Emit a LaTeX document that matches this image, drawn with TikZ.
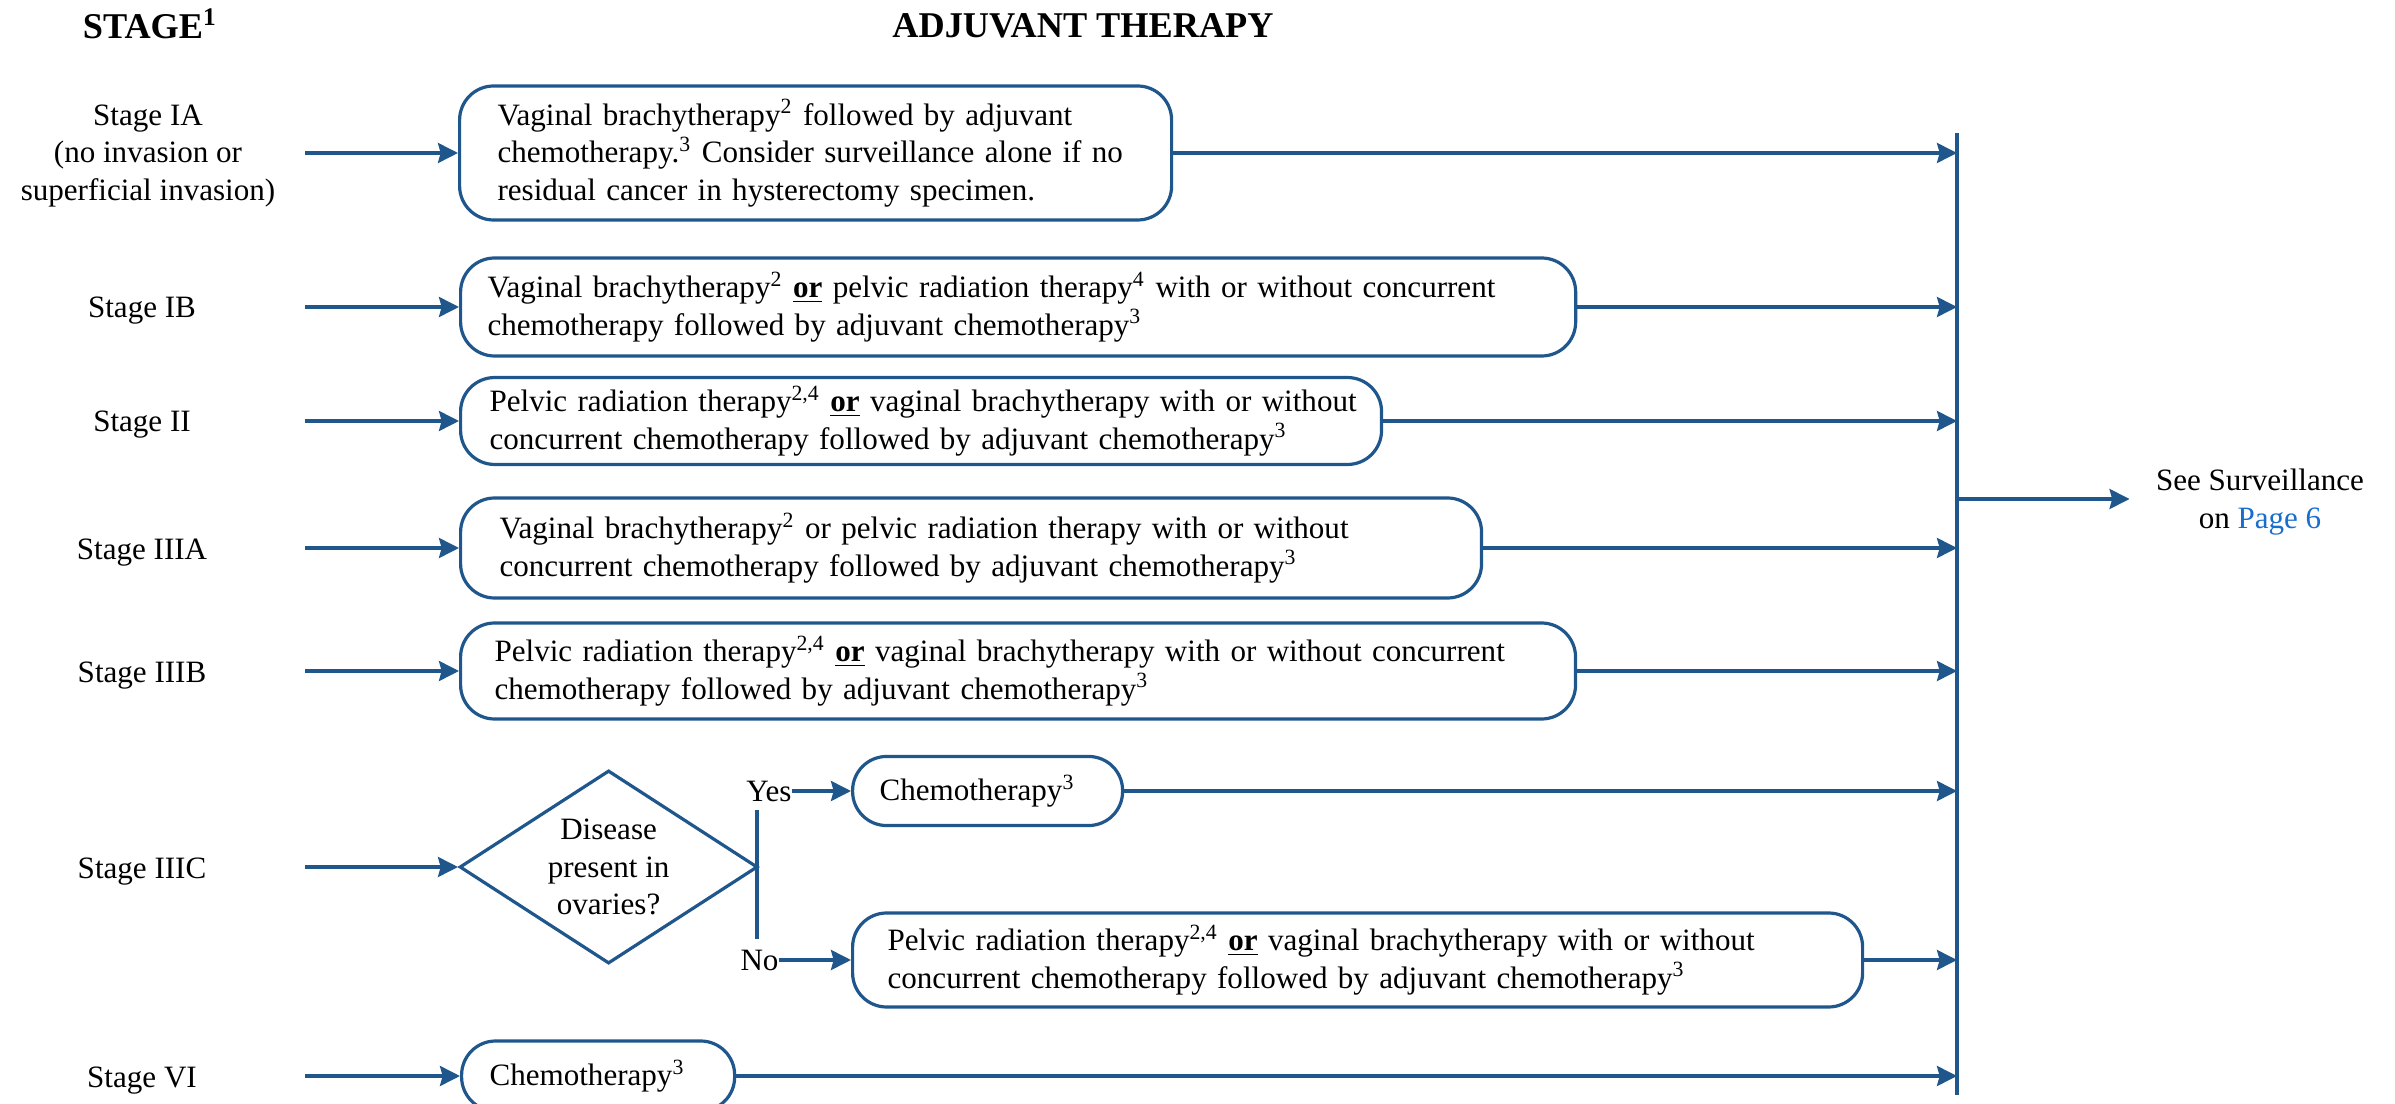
\documentclass[tikz,border=0pt]{standalone}
\usepackage{fontspec}
\setmainfont{Liberation Serif}
\usetikzlibrary{arrows.meta,shapes.geometric}
\definecolor{flow}{RGB}{31,86,140}
\definecolor{linkblue}{RGB}{25,110,205}
\newcommand{\orbold}{\underline{\textbf{or}}}
\begin{document}
\begin{tikzpicture}[x=0.375pt,y=-0.375pt,
  font=\fontsize{11.65pt}{14.1pt}\selectfont,
  line/.style={draw=flow, line width=1.2pt},
  arr/.style={line, -{Stealth[length=7.5pt,width=7.5pt,inset=1pt]}},
  tbox/.style={draw=flow, line width=1.2pt, rounded corners=12.75pt,
    align=left, anchor=west, inner ysep=2pt},
  stage/.style={align=center, inner sep=0pt},
  head/.style={font=\fontsize{13.6pt}{16pt}\selectfont\bfseries,
    inner sep=0pt, anchor=base},
  dia/.style={diamond, draw=flow, line width=1.2pt, inner sep=0pt,
    anchor=west}]

\useasboundingbox (0,0) rectangle (2395,1104);
\clip (0,0) rectangle (2395,1104);

% column headings
\node[head] (hstage) at (150,39) {STAGE\textsuperscript{1}};
\node[head] (hadj) at (1083,38) {ADJUVANT THERAPY};

% stage labels
\node[stage] (sIA) at (148,156) {Stage IA\\(no invasion or\\superficial invasion)};
\node[stage, anchor=base] (sIB) at (142,318) {Stage IB};
\node[stage, anchor=base] (sII) at (142,432) {Stage II};
\node[stage, anchor=base] (sIIIA) at (142,559) {Stage IIIA};
\node[stage, anchor=base] (sIIIB) at (142,682) {Stage IIIB};
\node[stage, anchor=base] (sIIIC) at (142,878) {Stage IIIC};
\node[stage, anchor=base] (sVI) at (142,1087) {Stage VI};

% start of the arrows leaving the stage column
\coordinate (lane) at (305,0);

% therapy boxes
\node[tbox, inner xsep=14.25pt, text width=238.5pt, minimum height=50.25pt] (bIA) at (458,153)
  {\mbox{Vaginal brachytherapy\textsuperscript{2} followed by adjuvant}\\
   \mbox{chemotherapy.\textsuperscript{3} Consider surveillance alone if no}\\
   \mbox{residual cancer in hysterectomy specimen.}};
\node[tbox, inner xsep=10.125pt, text width=397.9pt, minimum height=36.75pt] (bIB) at (459,307)
  {\mbox{Vaginal brachytherapy\textsuperscript{2} \orbold{} pelvic radiation therapy\textsuperscript{4} with or without concurrent}\\
   \mbox{chemotherapy followed by adjuvant chemotherapy\textsuperscript{3}}};
\node[tbox, inner xsep=10.875pt, text width=323.6pt, minimum height=32.6pt] (bII) at (459,421)
  {\mbox{Pelvic radiation therapy\textsuperscript{2,4} \orbold{} vaginal brachytherapy with or without}\\
   \mbox{concurrent chemotherapy followed by adjuvant chemotherapy\textsuperscript{3}}};
\node[tbox, inner xsep=14.625pt, text width=353.6pt, minimum height=37.5pt] (bIIIA) at (459,548)
  {\mbox{Vaginal brachytherapy\textsuperscript{2} or pelvic radiation therapy with or without}\\
   \mbox{concurrent chemotherapy followed by adjuvant chemotherapy\textsuperscript{3}}};
\node[tbox, inner xsep=12.75pt, text width=392.6pt, minimum height=36pt] (bIIIB) at (459,671)
  {\mbox{Pelvic radiation therapy\textsuperscript{2,4} \orbold{} vaginal brachytherapy with or without concurrent}\\
   \mbox{chemotherapy followed by adjuvant chemotherapy\textsuperscript{3}}};

% stage IIIC decision
\node[dia, minimum width=111.75pt, minimum height=72.4pt,
  label={[align=center, inner sep=0pt]center:Disease\\present in\\ovaries?}] (dia) at (458,867) {};
\coordinate (vtop) at (757,810);
\coordinate (vbot) at (757,939);
\draw[line] (vtop) -- (vbot);
\node[inner sep=0pt, anchor=east] (yes) at (792,791) {Yes};
\node[inner sep=0pt, anchor=east] (no) at (779,960) {No};
\node[tbox, inner xsep=10.125pt, text width=81pt, minimum height=25.9pt] (bYes) at (851,791)
  {\mbox{Chemotherapy\textsuperscript{3}}};
\node[tbox, inner xsep=13.125pt, text width=352.5pt, minimum height=35.25pt] (bNo) at (851,960)
  {\mbox{Pelvic radiation therapy\textsuperscript{2,4} \orbold{} vaginal brachytherapy with or without}\\
   \mbox{concurrent chemotherapy followed by adjuvant chemotherapy\textsuperscript{3}}};
\draw[arr] (yes.east) -- (bYes.west);
\draw[arr] (no.east) -- (bNo.west);

\node[tbox, inner xsep=10.5pt, text width=81.4pt, minimum height=26.25pt] (bVI) at (460,1076)
  {\mbox{Chemotherapy\textsuperscript{3}}};

% arrows from the stages
\foreach \b in {bIA,bIB,bII,bIIIA,bIIIB,dia,bVI}
  \draw[arr] (\b.west -| lane) -- (\b.west);

% collecting bar
\coordinate (bartop) at (1957,133);
\coordinate (barbot) at (1957,1095);
\draw[line] (bartop) -- (barbot);
\foreach \b in {bIA,bIB,bII,bIIIA,bIIIB,bYes,bNo,bVI}
  \draw[arr] (\b.east) -- (\b.east -| bartop);

% exit to surveillance
\coordinate (split) at (1957,499);
\node[align=center, inner sep=0pt] (surv) at (2260,502)
  {See Surveillance\\on \textcolor{linkblue}{Page 6}};
\draw[arr, shorten >=9.75pt] (split) -- (split -| surv.west);
\end{tikzpicture}
\end{document}
